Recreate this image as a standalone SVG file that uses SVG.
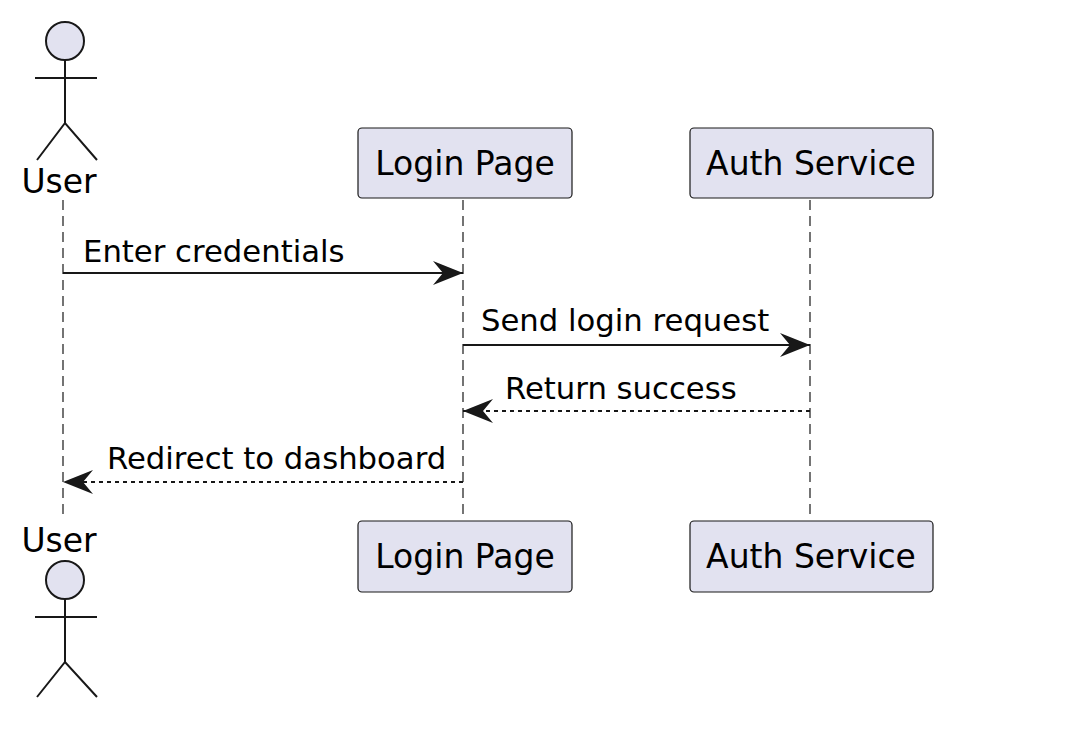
<svg xmlns="http://www.w3.org/2000/svg" width="1080" height="737" viewBox="0 0 1080 737">
<style>
.box{fill:#E2E2F0;stroke:#181818;stroke-width:1.2}
.act{fill:none;stroke:#181818;stroke-width:2}
.head{fill:#E2E2F0;stroke:#181818;stroke-width:2}
.life{stroke:#181818;stroke-width:1.2;stroke-dasharray:10,6;fill:none}
.msg{stroke:#181818;stroke-width:2;fill:none}
.dash{stroke-dasharray:4,4}
text{font-family:"DejaVu Sans","Liberation Sans",sans-serif;fill:#000}
.t{font-size:33px}
.m{font-size:30.7px}
</style>
<defs>
<marker id="ah" viewBox="0 0 30 24" refX="30" refY="12" markerWidth="30" markerHeight="24" markerUnits="userSpaceOnUse" orient="auto">
<polygon points="0,0 30,12 0,24 10,12" fill="#181818"/>
</marker>
</defs>
<rect width="1080" height="737" fill="#fff"/>
<g id="lifelines">
<line class="life" x1="63" y1="200" x2="63" y2="520"/>
<line class="life" x1="463" y1="200" x2="463" y2="520"/>
<line class="life" x1="810" y1="200" x2="810" y2="520"/>
</g>
<g id="user-top">
<circle class="head" cx="65" cy="41" r="19"/>
<path class="act" d="M65 60V123M35 78H97M37 160L65 123L97 160"/>
<text class="t" x="59" y="193" text-anchor="middle">User</text>
</g>
<g id="login-top">
<rect class="box" x="358" y="128" width="214" height="70" rx="4"/>
<text class="t" x="465" y="175" text-anchor="middle">Login Page</text>
</g>
<g id="auth-top">
<rect class="box" x="690" y="128" width="243" height="70" rx="4"/>
<text class="t" x="811" y="175" text-anchor="middle">Auth Service</text>
</g>
<g id="user-bottom">
<text class="t" x="59" y="552" text-anchor="middle">User</text>
<circle class="head" cx="65" cy="580" r="19"/>
<path class="act" d="M65 599V662M35 617H97M37 697L65 662L97 697"/>
</g>
<g id="login-bottom">
<rect class="box" x="358" y="521" width="214" height="71" rx="4"/>
<text class="t" x="465" y="568" text-anchor="middle">Login Page</text>
</g>
<g id="auth-bottom">
<rect class="box" x="690" y="521" width="243" height="71" rx="4"/>
<text class="t" x="811" y="568" text-anchor="middle">Auth Service</text>
</g>
<g id="connectors">
<line class="msg" x1="63" y1="273" x2="463" y2="273" marker-end="url(#ah)"/>
<text class="m" x="83" y="262">Enter credentials</text>
<line class="msg" x1="463" y1="345" x2="810" y2="345" marker-end="url(#ah)"/>
<text class="m" x="481" y="331">Send login request</text>
<line class="msg dash" x1="810" y1="411" x2="463" y2="411" marker-end="url(#ah)"/>
<text class="m" x="505" y="399">Return success</text>
<line class="msg dash" x1="463" y1="482" x2="63" y2="482" marker-end="url(#ah)"/>
<text class="m" x="107" y="469">Redirect to dashboard</text>
</g>
</svg>
